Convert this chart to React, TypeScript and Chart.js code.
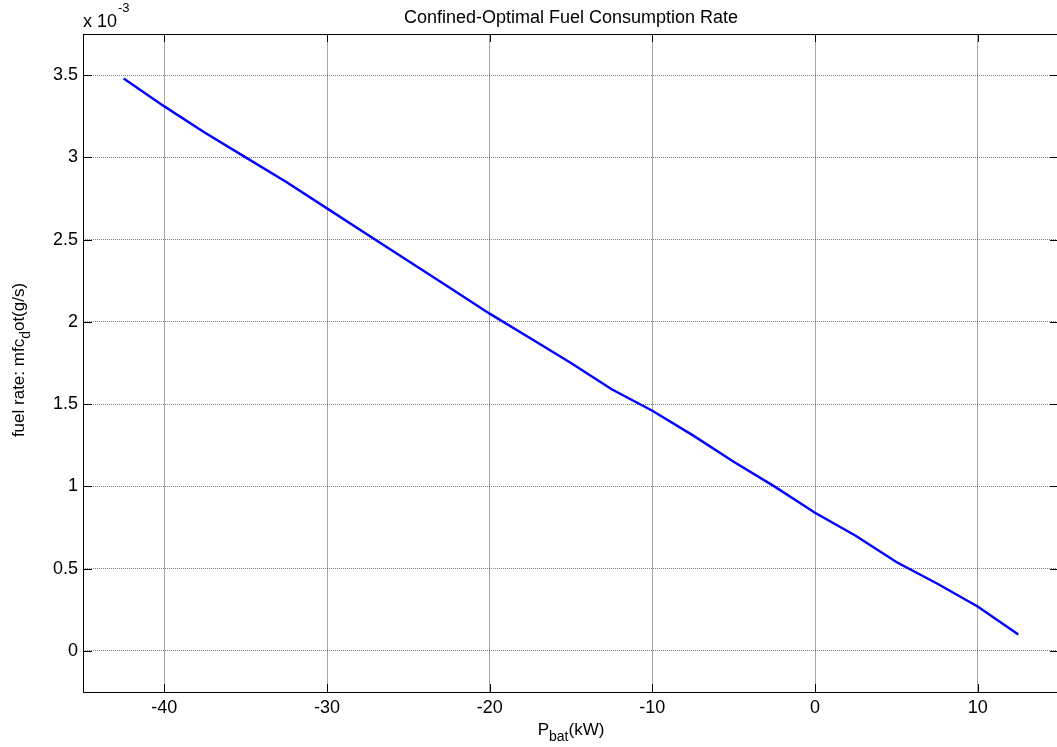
import React, { useEffect, useRef } from "react";
import { Chart, registerables } from "chart.js";

Chart.register(...registerables);

// Battery power (kW)
const pbat: number[] = [
  -42.5, -40, -37.5, -35, -32.5, -30, -27.5, -25, -22.5, -20, -17.5, -15,
  -12.5, -10, -7.5, -5, -2.5, 0, 2.5, 5, 7.5, 10, 12.5,
];
// Fuel rate in units of 1e-3 g/s
const fuelRate: number[] = [
  3.48, 3.31, 3.15, 3.0, 2.85, 2.69, 2.53, 2.37, 2.21, 2.05, 1.9, 1.75,
  1.59, 1.46, 1.31, 1.15, 1.0, 0.84, 0.7, 0.54, 0.41, 0.27, 0.1,
];
const xTicks: number[] = [-40, -30, -20, -10, 0, 10];
const yTicks: number[] = [0, 0.5, 1, 1.5, 2, 2.5, 3, 3.5];
const xRange: number[] = [-45, 15];
const yRange: number[] = [-0.25, 3.75];

const titleText = "Confined-Optimal Fuel Consumption Rate";
const FONT = "'Liberation Sans', Arial, Helvetica, sans-serif";

const W = 1062;
const H = 747;

const decorPlugin = {
  id: "matlabDecor",
  afterDraw(chart: any) {
    const ctx: CanvasRenderingContext2D = chart.ctx;
    const { left, right, top, bottom } = chart.chartArea;
    const xs = chart.scales.x;
    const ys = chart.scales.y;
    ctx.save();
    // axes box
    ctx.strokeStyle = "#000";
    ctx.lineWidth = 1;
    ctx.strokeRect(Math.round(left) + 0.5, Math.round(top) + 0.5, Math.round(right - left), Math.round(bottom - top));
    // inner ticks
    ctx.beginPath();
    xTicks.forEach((v) => {
      const px = Math.round(xs.getPixelForValue(v)) + 0.5;
      ctx.moveTo(px, bottom);
      ctx.lineTo(px, bottom - 8);
      ctx.moveTo(px, top);
      ctx.lineTo(px, top + 8);
    });
    yTicks.forEach((v) => {
      const py = Math.round(ys.getPixelForValue(v)) + 0.5;
      ctx.moveTo(left, py);
      ctx.lineTo(left + 9, py);
      ctx.moveTo(right, py);
      ctx.lineTo(right - 9, py);
    });
    ctx.stroke();

    ctx.fillStyle = "#000";
    // title
    ctx.font = `18px ${FONT}`;
    ctx.textAlign = "center";
    ctx.textBaseline = "alphabetic";
    ctx.fillText(titleText, (left + right) / 2, 23);

    // exponent label
    ctx.textAlign = "left";
    ctx.font = `18px ${FONT}`;
    ctx.fillText("x 10", left, 27);
    const wx = ctx.measureText("x 10").width;
    ctx.font = `13px ${FONT}`;
    ctx.fillText("-3", left + wx + 1, 12);

    // x axis title: P_bat(kW)
    const cx = (left + right) / 2;
    ctx.font = `17px ${FONT}`;
    const wP = ctx.measureText("P").width;
    const wK = ctx.measureText("(kW)").width;
    ctx.font = `14px ${FONT}`;
    const wB = ctx.measureText("bat").width;
    const x0 = cx - (wP + wB + wK) / 2;
    ctx.font = `17px ${FONT}`;
    ctx.fillText("P", x0, 735);
    ctx.font = `14px ${FONT}`;
    ctx.fillText("bat", x0 + wP, 741);
    ctx.font = `17px ${FONT}`;
    ctx.fillText("(kW)", x0 + wP + wB, 735);

    // y axis title: fuel rate: mfc_dot(g/s)
    const cy = (top + bottom) / 2;
    ctx.translate(24, cy - 3);
    ctx.rotate(-Math.PI / 2);
    ctx.font = `17px ${FONT}`;
    const a = "fuel rate: mfc";
    const b = "ot(g/s)";
    const wa = ctx.measureText(a).width;
    const wb = ctx.measureText(b).width;
    ctx.font = `14px ${FONT}`;
    const wd = ctx.measureText("d").width;
    const s = -(wa + wd + wb) / 2;
    ctx.font = `17px ${FONT}`;
    ctx.fillText(a, s, 0);
    ctx.font = `14px ${FONT}`;
    ctx.fillText("d", s + wa, 6);
    ctx.font = `17px ${FONT}`;
    ctx.fillText(b, s + wa + wd, 0);
    ctx.restore();
  },
};

export default function App() {
  const ref = useRef<HTMLCanvasElement | null>(null);
  useEffect(() => {
    if (!ref.current) return;
    const chart = new Chart(ref.current, {
      type: "line",
      data: {
        datasets: [
          {
            data: pbat.map((x, i) => ({ x, y: fuelRate[i] })),
            borderColor: "#0000ff",
            borderWidth: 2.4,
            pointRadius: 0,
            fill: false,
            tension: 0,
          },
        ],
      },
      options: {
        animation: false,
        responsive: false,
        maintainAspectRatio: false,
        layout: { padding: { left: 0, top: 34, right: 3, bottom: 0 } },
        plugins: {
          legend: { display: false },
          tooltip: { enabled: false },
          title: { display: false },
        },
        scales: {
          x: {
            type: "linear",
            min: xRange[0],
            max: xRange[1],
            afterBuildTicks: (scale: any) => {
              scale.ticks = xTicks.map((v) => ({ value: v }));
            },
            afterFit: (scale: any) => {
              scale.height = 55;
            },
            grid: { color: "rgba(0,0,0,0.35)", drawTicks: false, lineWidth: 1 },
            border: { display: false },
            ticks: {
              color: "#000",
              font: { family: FONT, size: 18 },
              padding: 5,
              maxRotation: 0,
              autoSkip: false,
              callback: (v: any) => String(v),
            },
          },
          y: {
            type: "linear",
            min: yRange[0],
            max: yRange[1],
            afterBuildTicks: (scale: any) => {
              scale.ticks = yTicks.map((v) => ({ value: v }));
            },
            afterFit: (scale: any) => {
              scale.width = 83;
            },
            grid: { color: "rgba(0,0,0,0.5)", drawTicks: false, lineWidth: 1 },
            border: { display: false, dash: [1, 1] },
            ticks: {
              color: "#000",
              font: { family: FONT, size: 18 },
              padding: 5,
              autoSkip: false,
              callback: (v: any) => String(v),
            },
          },
        },
      },
      plugins: [decorPlugin],
    });
    return () => chart.destroy();
  }, []);
  return (
    <div
      style={{
        position: "absolute",
        left: 0,
        top: 0,
        width: 1057,
        height: 747,
        overflow: "hidden",
        background: "#fff",
      }}
    >
      <canvas ref={ref} width={W} height={H} style={{ width: W, height: H, display: "block" }} />
    </div>
  );
}
